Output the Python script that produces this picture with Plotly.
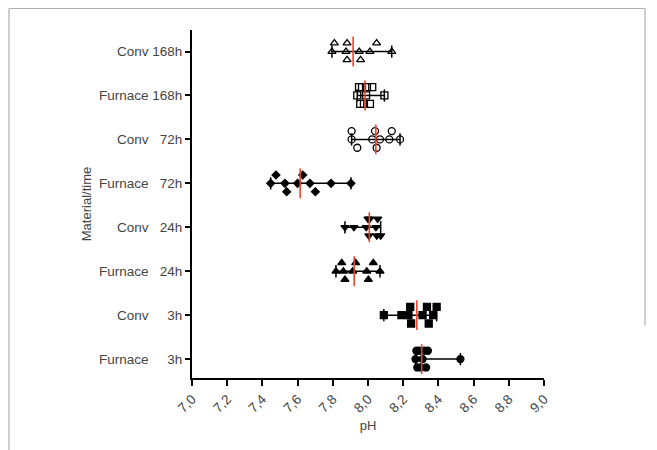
import numpy as np
import plotly.graph_objects as go

categories = ["Furnace \u2007\u20073h", "Conv \u2007\u20073h", "Furnace \u200724h", "Conv \u200724h",
              "Furnace \u200772h", "Conv \u200772h", "Furnace 168h", "Conv 168h"]

furnace_3h = [8.27, 8.275, 8.28, 8.29, 8.30, 8.31, 8.32, 8.33, 8.34, 8.525]
conv_3h = [8.09, 8.19, 8.23, 8.24, 8.245, 8.31, 8.335, 8.345, 8.37, 8.39]
furnace_24h = [7.818, 7.851, 7.86, 7.869, 7.913, 7.93, 7.993, 8.002, 8.03, 8.068]
conv_24h = [7.869, 7.92, 7.99, 8.0, 8.005, 8.01, 8.045, 8.05, 8.055, 8.072]
furnace_72h = [7.447, 7.477, 7.528, 7.538, 7.600, 7.629, 7.670, 7.701, 7.790, 7.903]
conv_72h = [7.907, 7.907, 7.939, 8.024, 8.04, 8.049, 8.068, 8.121, 8.135, 8.182]
furnace_168h = [7.939, 7.949, 7.956, 7.966, 7.977, 7.989, 7.994, 8.011, 8.024, 8.093]
conv_168h = [7.795, 7.809, 7.875, 7.881, 7.881, 7.95, 7.958, 8.011, 8.049, 8.135]

series = [furnace_3h, conv_3h, furnace_24h, conv_24h, furnace_72h, conv_72h, furnace_168h, conv_168h]
symbols = ["circle", "square", "triangle-up", "triangle-down", "diamond",
           "circle-open", "square-open", "triangle-up-open"]
sizes = [7, 7, 7, 7, 6, 7, 7, 7]

tick_vals = [7.0 + 0.2 * i for i in range(11)]
tick_text = [f"{v:.1f}".replace(".", ",") for v in tick_vals]


def swarm(vals, d=0.04, step=0.19):
    order = np.argsort(vals)
    lanes = {0: [], 1: [], -1: []}
    offs = [0.0] * len(vals)
    for i in order:
        v = vals[i]

        def conflicts(L):
            return sum(abs(v - u) < d for u in lanes[L])

        if conflicts(0) == 0:
            lane = 0
        else:
            side = [1, -1] if len(lanes[1]) <= len(lanes[-1]) else [-1, 1]
            free = [L for L in side if conflicts(L) == 0]
            lane = free[0] if free else min(side + [0], key=conflicts)
        lanes[lane].append(v)
        offs[i] = lane * step
    return offs


fig = go.Figure()
for k, vals in enumerate(series):
    lo, hi = min(vals), max(vals)
    cap = 0.14
    fig.add_trace(go.Scatter(x=[lo, hi], y=[k, k], mode="lines",
                             line=dict(color="black", width=1.5), hoverinfo="skip"))
    for e in (lo, hi):
        fig.add_trace(go.Scatter(x=[e, e], y=[k - cap, k + cap], mode="lines",
                                 line=dict(color="black", width=1.5), hoverinfo="skip"))
    offs = swarm(vals)
    fig.add_trace(go.Scatter(x=vals, y=[k + o for o in offs], mode="markers",
                             marker=dict(symbol=symbols[k], size=sizes[k], color="black",
                                         line=dict(color="black", width=1.3))))
    med = float(np.median(vals))
    fig.add_trace(go.Scatter(x=[med, med], y=[k - 0.34, k + 0.34], mode="lines",
                             line=dict(color="#e8452c", width=1.6), hoverinfo="skip"))

fig.add_shape(type="line", xref="paper", yref="paper", x0=-0.520, x1=1.287, y0=1.062, y1=1.062,
              line=dict(color="#b0b0b0", width=1.2))
fig.add_shape(type="line", xref="paper", yref="paper", x0=-0.520, x1=-0.520, y0=1.062, y1=-0.23,
              line=dict(color="#b0b0b0", width=1.2))
fig.add_shape(type="line", xref="paper", yref="paper", x0=1.287, x1=1.287, y0=1.062, y1=0.15,
              line=dict(color="#b0b0b0", width=1.2))

fig.update_layout(
    width=657, height=450,
    margin=dict(l=184, r=121, t=22, b=80),
    paper_bgcolor="white", plot_bgcolor="white",
    showlegend=False,
    font=dict(family="Liberation Sans, Arial, sans-serif", size=13, color="#444444"),
    xaxis=dict(range=[7.0, 9.0], tickvals=tick_vals, ticktext=tick_text, tickangle=-45,
               showline=True, linecolor="black", linewidth=2, ticks="outside", ticklen=6,
               tickwidth=2, tickcolor="black", showgrid=False, zeroline=False,
               title=dict(text="pH", standoff=6, font=dict(size=13)),
               tickfont=dict(size=13.5, color="#444444")),
    yaxis=dict(range=[-0.43, 7.49], tickvals=list(range(len(categories))), ticktext=categories,
               showline=True, linecolor="black", linewidth=2, ticks="outside", ticklen=5,
               tickwidth=2, tickcolor="black", showgrid=False, zeroline=False,
               title=dict(text="Material/time", standoff=4, font=dict(size=13)),
               tickfont=dict(size=13.5, color="#444444")),
)

fig.write_html("out.html")
